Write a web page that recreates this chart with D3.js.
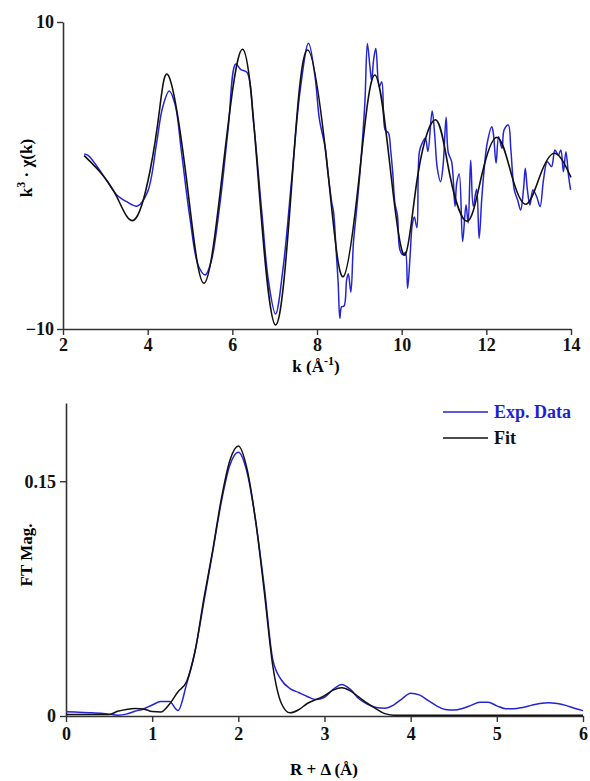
<!DOCTYPE html>
<html><head><meta charset="utf-8">
<script src="https://cdn.jsdelivr.net/npm/d3@7/dist/d3.min.js"></script>
<style>
html,body{margin:0;padding:0;background:#fff;}
text{font-family:"Liberation Serif","Times New Roman",serif;font-weight:bold;}
</style></head><body>
<svg id="c" width="590" height="781"></svg>
<script>
// ---- Top panel: k^3·chi(k) ----
const kTicks = [2, 4, 6, 8, 10, 12, 14];
const chiTicks = [-10, 10];
const fitK   = [2.5, 2.87, 3.27, 3.68, 4.06, 4.29, 4.51, 4.92, 5.33, 5.78, 6.245, 6.62, 7.02, 7.4, 7.78, 8.27, 8.62, 9.0, 9.37, 9.75, 10.08, 10.38, 10.81, 11.14, 11.55, 11.89, 12.26, 12.6, 12.94, 13.27, 13.62, 14.0];
const fitChi = [1.3, 0.25, -1.38, -2.9, 0.36, 4.48, 6.4, -0.3, -7.02, 0.5, 8.22, -0.5, -9.74, -0.7, 8.18, -0.1, -6.59, 0.0, 6.55, 0.0, -5.18, 0.0, 3.62, 0.0, -2.97, 0.0, 2.48, 0.0, -1.87, 0.0, 1.45, -0.12];
const expK   = [2.5, 2.6, 2.8, 3.0, 3.27, 3.5, 3.76, 4.0, 4.21, 4.35, 4.51, 4.65, 4.8, 5.0, 5.2, 5.36, 5.5, 5.7, 5.9, 6.08, 6.2, 6.35, 6.5, 6.7, 6.85, 7.02, 7.2, 7.4, 7.6, 7.8, 7.95, 8.06, 8.19, 8.27, 8.35, 8.39, 8.45, 8.5, 8.54, 8.58, 8.64, 8.7, 8.74, 8.8, 8.86, 8.92, 9.02, 9.13, 9.19, 9.25, 9.29, 9.34, 9.39, 9.47, 9.53, 9.61, 9.69, 9.74, 9.79, 9.84, 9.9, 9.96, 10.04, 10.09, 10.14, 10.2, 10.25, 10.3, 10.36, 10.42, 10.5, 10.56, 10.62, 10.72, 10.78, 10.84, 10.92, 10.98, 11.05, 11.1, 11.18, 11.26, 11.3, 11.36, 11.44, 11.52, 11.57, 11.63, 11.69, 11.77, 11.83, 11.89, 11.94, 12.02, 12.13, 12.17, 12.23, 12.29, 12.37, 12.42, 12.52, 12.58, 12.66, 12.74, 12.81, 12.88, 12.92, 12.97, 13.03, 13.1, 13.19, 13.27, 13.35, 13.44, 13.54, 13.62, 13.7, 13.76, 13.82, 13.88, 13.94, 13.99];
const expChi = [1.4, 1.3, 0.6, -0.2, -1.27, -1.7, -1.99, -1.05, 2.1, 4.4, 5.5, 4.6, 1.5, -2.8, -5.9, -6.48, -5.6, -2.0, 3.0, 7.26, 6.9, 6.7, 3.5, -2.5, -6.8, -9.02, -6.0, -0.3, 5.5, 8.61, 6.5, 3.6, 1.88, -0.07, -1.8, -2.35, -4.8, -7.0, -9.3, -8.55, -8.5, -6.8, -6.4, -7.6, -4.4, -2.67, 0.36, 4.7, 8.6, 7.1, 6.2, 7.6, 8.28, 5.79, 6.1, 2.97, 2.75, 1.66, 0.14, -1.8, -2.6, -4.85, -5.18, -5.0, -7.35, -5.2, -3.2, -2.7, -3.4, 1.57, 2.2, 2.45, 1.57, 4.2, 2.67, 0.5, -0.4, 0.7, 3.8, 1.5, 0.9, -2.0, -0.5, 0.1, -4.3, -1.9, -3.1, 1.0, -2.0, -0.9, -4.1, -1.6, 0.14, 2.1, 3.18, 2.64, 0.79, 2.53, 1.77, 2.97, 3.29, 1.66, -0.94, -1.6, -2.25, -0.84, 0.47, -0.94, -1.92, -0.94, -1.38, -2.03, -0.29, 0.9, 0.58, 1.66, 1.33, 1.66, 0.25, 1.55, 0.03, -0.94];

// ---- Bottom panel: FT magnitude ----
const rTicks = [0, 1, 2, 3, 4, 5, 6];
const ftTicks = [0, 0.15];
const rGrid = d3.range(0, 61).map(i => +(i / 10).toFixed(1));
const ftExp = [0.0027, 0.0025, 0.0022, 0.002, 0.0018, 0.0012, 0.0005, 0.0012, 0.003, 0.0045, 0.007, 0.0092, 0.0092, 0.0035, 0.0205, 0.042, 0.073, 0.104, 0.136, 0.160, 0.1686, 0.156, 0.125, 0.083, 0.036, 0.023, 0.0175, 0.015, 0.0125, 0.0105, 0.012, 0.017, 0.0202, 0.017, 0.011, 0.0075, 0.0055, 0.005, 0.007, 0.011, 0.0145, 0.0135, 0.01, 0.0065, 0.0042, 0.0038, 0.0048, 0.0068, 0.0088, 0.0088, 0.0065, 0.0047, 0.0046, 0.0055, 0.0068, 0.008, 0.0085, 0.008, 0.0068, 0.005, 0.0034];
const ftFit = [0.001, 0.001, 0.001, 0.001, 0.001, 0.001, 0.003, 0.0042, 0.0048, 0.0045, 0.0028, 0.0025, 0.0075, 0.0155, 0.022, 0.042, 0.075, 0.105, 0.138, 0.163, 0.1725, 0.158, 0.125, 0.08, 0.032, 0.008, 0.002, 0.004, 0.008, 0.0105, 0.013, 0.0165, 0.018, 0.016, 0.012, 0.008, 0.0045, 0.0015, 0.0005, 0.0004, 0.0004, 0.0004, 0.0004, 0.0004, 0.0004, 0.0004, 0.0004, 0.0004, 0.0004, 0.0004, 0.0004, 0.0004, 0.0004, 0.0004, 0.0004, 0.0004, 0.0004, 0.0004, 0.0004, 0.0004, 0.0004];

const legendLabels = ["Exp. Data", "Fit"];
const BLUE = "#2424d4", BLACK = "#111";

const svg = d3.select("#c");

function styleAxis(g) {
  g.select(".domain").attr("stroke", "#333").attr("stroke-width", 1.6);
  g.selectAll(".tick line").attr("stroke", "#333").attr("stroke-width", 1.4);
  g.selectAll(".tick text").attr("fill", "#111").style("font-size", "18px")
    .style("font-family", '"Liberation Serif",serif').style("font-weight", "bold");
}

// Top
const xK = d3.scaleLinear().domain([2, 14]).range([63, 571]);
const yC = d3.scaleLinear().domain([-10, 10]).range([329, 22]);
const gTx = svg.append("g").attr("transform", `translate(0,${yC(-10)})`)
  .call(d3.axisBottom(xK).tickValues(kTicks).tickSize(6).tickSizeOuter(0).tickPadding(3));
styleAxis(gTx);
const gTy = svg.append("g").attr("transform", `translate(${xK(2)},0)`)
  .call(d3.axisLeft(yC).tickValues(chiTicks).tickSize(6).tickSizeOuter(0).tickPadding(3));
styleAxis(gTy);

const lineFit = d3.line().x((d, i) => xK(fitK[i])).y(d => yC(d)).curve(d3.curveNatural);
const lineExp = d3.line().x((d, i) => xK(expK[i])).y(d => yC(d)).curve(d3.curveCatmullRom.alpha(0.5));
svg.append("path").attr("d", lineExp(expChi)).attr("fill", "none").attr("stroke", BLUE).attr("stroke-width", 1.5);
svg.append("path").attr("d", lineFit(fitChi)).attr("fill", "none").attr("stroke", BLACK).attr("stroke-width", 1.6);

svg.append("text").attr("x", 316).attr("y", 372).attr("text-anchor", "middle").style("font-size", "17px")
  .html('k (Å<tspan dy="-7" font-size="12px">-1</tspan><tspan dy="7">)</tspan>');
svg.append("text").attr("transform", "translate(32,168) rotate(-90)").attr("text-anchor", "middle").style("font-size", "17px")
  .html('k<tspan dy="-7" font-size="12px">3</tspan><tspan dy="7"> · χ(k)</tspan>');

// Bottom
const xR = d3.scaleLinear().domain([0, 6]).range([66, 583]);
const yF = d3.scaleLinear().domain([0, 0.2]).range([716, 403]);
const gBx = svg.append("g").attr("transform", `translate(0,${yF(0)})`)
  .call(d3.axisBottom(xR).tickValues(rTicks).tickFormat(d3.format("d")).tickSize(6).tickSizeOuter(0).tickPadding(5));
styleAxis(gBx);
const gBy = svg.append("g").attr("transform", `translate(${xR(0)},0)`)
  .call(d3.axisLeft(yF).tickValues(ftTicks).tickFormat(d => d === 0 ? "0" : d3.format(".2f")(d)).tickSize(6).tickSizeOuter(0).tickPadding(4));
styleAxis(gBy);

const lineFtE = d3.line().x((d, i) => xR(rGrid[i])).y(d => yF(d)).curve(d3.curveMonotoneX);
svg.append("path").attr("d", lineFtE(ftExp)).attr("fill", "none").attr("stroke", BLUE).attr("stroke-width", 1.5);
svg.append("path").attr("d", lineFtE(ftFit)).attr("fill", "none").attr("stroke", BLACK).attr("stroke-width", 1.5);

svg.append("text").attr("x", 324).attr("y", 775).attr("text-anchor", "middle").style("font-size", "17px").text("R + Δ (Å)");
svg.append("text").attr("transform", "translate(32,555) rotate(-90)").attr("text-anchor", "middle").style("font-size", "17px").text("FT Mag.");

// Legend
const leg = svg.append("g");
legendLabels.forEach((lab, i) => {
  const y = 412 + i * 26;
  const col = i === 0 ? BLUE : BLACK;
  leg.append("line").attr("x1", 443).attr("x2", 488).attr("y1", y).attr("y2", y).attr("stroke", col).attr("stroke-width", 1.6);
  leg.append("text").attr("x", 494).attr("y", y + 6).attr("fill", i === 0 ? "#1f1fd6" : "#111").style("font-size", "18px").text(lab);
});
</script></body></html>
